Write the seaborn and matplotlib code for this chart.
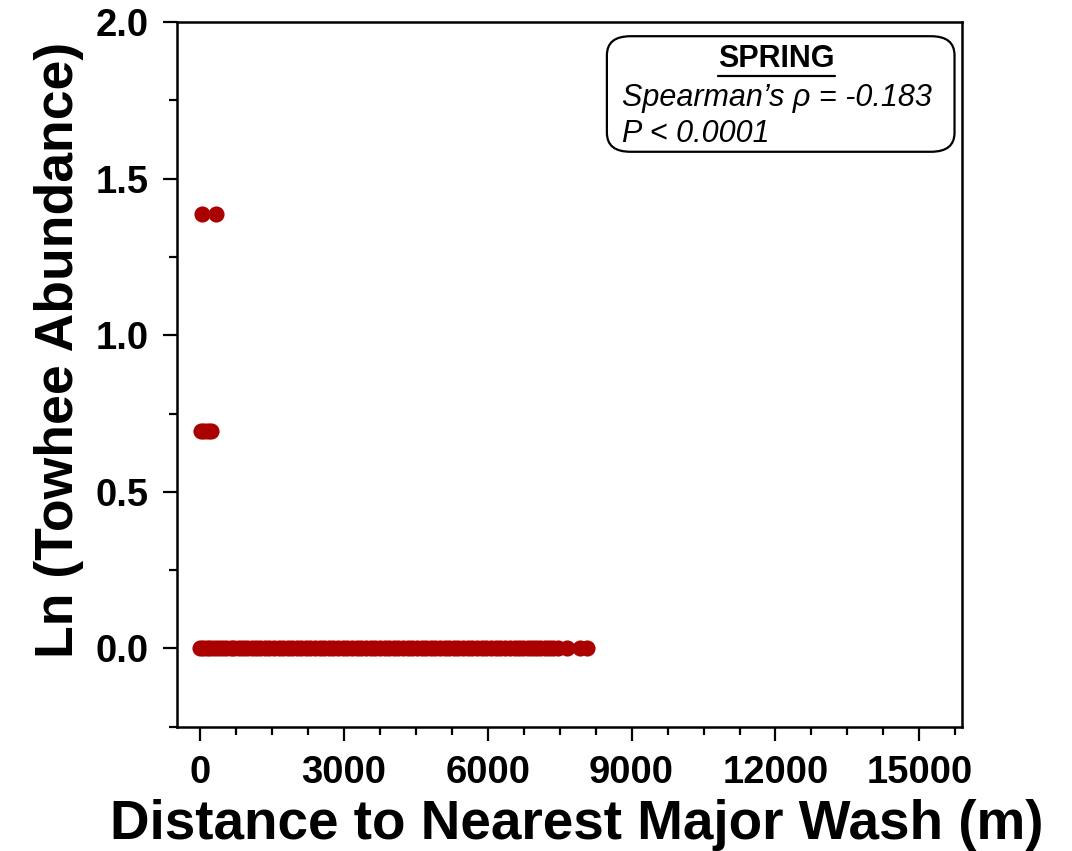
import numpy as np
import pandas as pd
import matplotlib
matplotlib.use("Agg")
import matplotlib.pyplot as plt
import seaborn as sns
from matplotlib.patches import FancyBboxPatch
from matplotlib.ticker import MultipleLocator, FixedLocator

# ---- data ----
dist_zero = [10, 70, 140, 220, 300, 380, 470, 550, 640, 720, 810, 900, 990, 1080,
             1170, 1260, 1350, 1450, 1540, 1640, 1730, 1830, 1920, 2020, 2110,
             2210, 2300, 2400, 2500, 2590, 2690, 2780, 2880, 2980, 3070, 3170,
             3270, 3360, 3460, 3560, 3650, 3750, 3850, 3940, 4040, 4140, 4230,
             4330, 4430, 4520, 4620, 4720, 4810, 4910, 5010, 5100, 5200, 5300,
             5390, 5490, 5590, 5680, 5780, 5880, 5970, 6070, 6170, 6260, 6360,
             6460, 6560, 6650, 6740, 6830, 6920, 7010, 7100, 7190, 7280, 7370,
             7460, 7650, 7920, 8080]
dist_ln2 = [20, 90, 160, 230]
dist_ln4 = [40, 340]
ln_zero = [0.0] * len(dist_zero)
ln_two = [0.693] * len(dist_ln2)
ln_four = [1.386] * len(dist_ln4)

x_ticks = [0, 3000, 6000, 9000, 12000, 15000]
y_ticks = [0.0, 0.5, 1.0, 1.5, 2.0]

title_txt = "SPRING"
rho_txt = "Spearman\u2019s \u03c1 = -0.183"
p_txt = "P < 0.0001"

df = pd.DataFrame({
    "distance": dist_zero + dist_ln2 + dist_ln4,
    "ln_abund": ln_zero + ln_two + ln_four,
})

sns.set_theme(style="white")
plt.rcParams['font.family'] = ['Liberation Sans', 'DejaVu Sans']
plt.rcParams['text.color'] = 'black'
plt.rcParams['axes.labelcolor'] = 'black'
plt.rcParams['xtick.color'] = 'black'
plt.rcParams['ytick.color'] = 'black'

fig = plt.figure(figsize=(10.72, 8.51), dpi=100)
ax = fig.add_axes([0.165, 0.146, 0.732, 0.828])

sns.scatterplot(data=df, x="distance", y="ln_abund", ax=ax, color="#AA0000",
                s=135, linewidth=0, alpha=1.0, legend=False)

ax.set_xlim(-480, 15880)
ax.set_ylim(-0.25, 2.0)
ax.xaxis.set_major_locator(FixedLocator(x_ticks))
ax.xaxis.set_minor_locator(MultipleLocator(750))
ax.yaxis.set_major_locator(FixedLocator(y_ticks))
ax.yaxis.set_minor_locator(MultipleLocator(0.25))
ax.set_xticklabels([str(v) for v in x_ticks])
ax.set_yticklabels([f"{v:.1f}" for v in y_ticks])

for sp in ax.spines.values():
    sp.set_visible(True)
    sp.set_color("black")
    sp.set_linewidth(1.8)

ax.tick_params(axis="both", which="major", direction="out", length=10, width=1.6,
               color="black", labelsize=27.5, bottom=True, left=True)
ax.tick_params(axis="x", which="major", pad=10)
ax.tick_params(axis="y", which="major", pad=10)
ax.tick_params(axis="both", which="minor", direction="out", length=5.5, width=1.6,
               color="black", bottom=True, left=True)
for lab in ax.get_xticklabels() + ax.get_yticklabels():
    lab.set_fontweight("bold")

ax.set_xlabel("Distance to Nearest Major Wash (m)", fontsize=39.5, fontweight="bold", va="center")
ax.set_ylabel("Ln (Towhee Abundance)", fontsize=38.5, fontweight="bold", va="center")
ax.xaxis.set_label_coords(0.51, -0.14)
ax.yaxis.set_label_coords(-0.15, 0.535)
ax.grid(False)

# annotation box
box = FancyBboxPatch((0.548, 0.816), 0.443, 0.164, transform=ax.transAxes,
                     boxstyle="round,pad=0,rounding_size=0.03", mutation_aspect=0.9,
                     facecolor="white", edgecolor="black", linewidth=1.6, zorder=5)
ax.add_patch(box)
t1 = ax.text(0.764, 0.947, title_txt, transform=ax.transAxes, ha="center", va="center",
             fontsize=22, fontweight="bold", zorder=6)
ax.text(0.567, 0.892, rho_txt, transform=ax.transAxes, ha="left", va="center",
        fontsize=22, style="italic", zorder=6)
ax.text(0.567, 0.841, p_txt, transform=ax.transAxes, ha="left", va="center",
        fontsize=22, style="italic", zorder=6)

fig.canvas.draw()
bb = t1.get_window_extent().transformed(ax.transAxes.inverted())
ax.plot([bb.x0, bb.x1], [bb.y0 - 0.002, bb.y0 - 0.002], transform=ax.transAxes,
        color="black", linewidth=1.6, zorder=6, clip_on=False)

fig.savefig("out.png", dpi=100)
